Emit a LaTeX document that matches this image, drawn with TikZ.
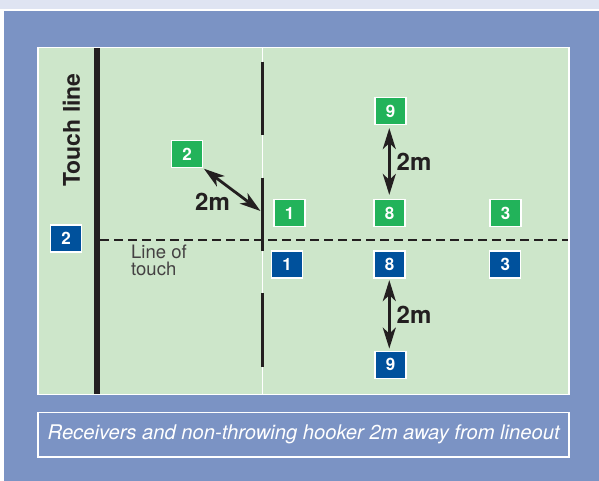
\documentclass[tikz,border=0pt]{standalone}
\usepackage{fontspec}
\setmainfont{TeX Gyre Heros}
\usetikzlibrary{arrows.meta,positioning}

\definecolor{panelblue}{HTML}{7B93C4}
\definecolor{stripblue}{HTML}{DFE4F2}
\definecolor{fieldgreen}{HTML}{CDE6CA}
\definecolor{teamgreen}{HTML}{22B35A}
\definecolor{teamblue}{HTML}{00519C}
\definecolor{ink}{HTML}{231F20}

\begin{document}
\begin{tikzpicture}[x=1pt,y=-1pt,>={Stealth[length=21pt,width=13pt,inset=6pt]},
  player/.style={draw=white,line width=1.2pt,minimum width=31pt,minimum height=27pt,inner sep=0pt,text=white,font=\fontsize{17}{17}\selectfont\bfseries},
  green player/.style={player,fill=teamgreen},
  blue player/.style={player,fill=teamblue},
  twoway/.style={<->,ink,line width=2.8pt},
  metre/.style={text=ink,font=\fontsize{24}{24}\selectfont\bfseries,inner sep=1pt}]
  \useasboundingbox (0,0) rectangle (599,481);
  % background and frames
  \fill[white] (0,0) rectangle (599,481);
  \fill[stripblue] (0,0) rectangle (599,9);
  \fill[panelblue] (4,11) rectangle (599,481);
  \draw[white,line width=1.4pt,fill=fieldgreen] (38,47.7) rectangle (569,394.5);
  \draw[white,line width=1.2pt] (262.3,48.5) -- (262.3,394);
  \draw[ink,line width=5.5pt] (97,48.5) -- (97,393.8);
  \draw[ink,line width=3pt] (262.3,61.7) -- (262.3,135)
                            (262.3,177.7) -- (262.3,250.7)
                            (262.3,293) -- (262.3,367);
  \draw[ink,line width=2.5pt,dash pattern=on 8.5pt off 5.5pt] (100,240) -- (568,240);
  \coordinate (lt) at (260.5,211);

  \node[rotate=90,text=ink,font=\fontsize{23}{23}\selectfont\bfseries] (touch) at (71.5,130) {Touch line};
  \node[anchor=north west,align=left,text=ink!85,inner sep=0pt,font=\fontsize{18.5}{16.5}\selectfont] (lot) at (131,245) {Line of\\touch};

  \node[green player] (g2) at (187,154) {2};
  \node[green player] (g1) at (289.5,213) {1};
  \node[green player] (g8) at (389.5,213) {8};
  \node[green player] (g3) at (505.5,213) {3};
  \node[green player] (g9) at (390.5,111) {9};
  \node[blue player] (b2) at (66,238.5) {2};
  \node[blue player] (b1) at (287,264.5) {1};
  \node[blue player] (b8) at (389.5,264.5) {8};
  \node[blue player] (b3) at (505.3,264.5) {3};
  \node[blue player] (b9) at (390.5,364.7) {9};

  \draw[twoway,shorten <=3pt,shorten >=4pt] (g9.south-|389.3,0) -- node[metre,right=5pt] {2m} (g8.north-|389.3,0);
  \draw[twoway,shorten <=1.5pt,shorten >=2pt] (b8.south-|389.3,0) -- node[metre,right=5pt] {2m} (b9.north-|389.3,0);
  \draw[twoway,shorten <=1pt] (g2.south east) -- (lt);
  \node[metre] (diag) at (212.5,201.5) {2m};

  \node[draw=white,line width=1.6pt,minimum width=531pt,minimum height=44.5pt,inner sep=0pt,text=white,font=\fontsize{20.2}{20.2}\selectfont\itshape] (cap) at (303.7,434.8) {Receivers and non-throwing hooker 2m away from lineout};
\end{tikzpicture}
\end{document}
